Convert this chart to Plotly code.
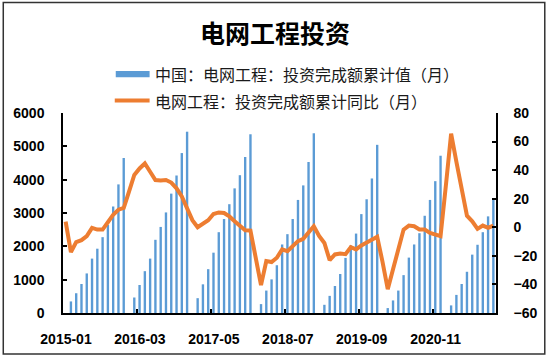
import plotly.graph_objects as go

# ---- data ----
years = [2015, 2016, 2017, 2018, 2019, 2020, 2021]
months = [f"{y}-{m:02d}" for y in years for m in range(1, 13)][:82]  # 2015-01 .. 2021-10

cum_2015 = [None, 347, 593, 870, 1187, 1632, 1929, 2275, 2641, 3195, 3858, 4650]
cum_2016 = [None, 465, 840, 1255, 1632, 2196, 2582, 3017, 3581, 4125, 4798, 5439]
cum_2017 = [None, 445, 860, 1315, 1810, 2424, 2819, 3264, 3739, 4134, 4680, 5362]
cum_2018 = [None, 267, 673, 1009, 1433, 2056, 2365, 2819, 3392, 3828, 4531, 5392]
cum_2019 = [None, 246, 514, 810, 1170, 1653, 2027, 2383, 2967, 3412, 4036, 5045]
cum_2020 = [None, 148, 377, 673, 1136, 1662, 2056, 2394, 2917, 3392, 3955, 4718]
cum_2021 = [None, 228, 543, 870, 1237, 1751, 2047, 2424, 2899, 3433]

yoy_2015 = [4, -17.4, -10.4, -9, -6.2, -0.4, -1.6, -1.6, 3.5, 8.8, 12.3, 13.5]
yoy_2016 = [25, 36.6, 41.2, 44.7, 38.9, 33.1, 32.7, 33.1, 31.3, 27.3, 21.6, 13]
yoy_2017 = [5, 0, 2.6, 4.9, 9.3, 10.4, 10, 7.6, 4.2, 1.2, -2.1, -2.3]
yoy_2018 = [-21, -40.5, -23.6, -24.3, -21.3, -15.5, -16.7, -13.2, -9.7, -8.1, -3.5, 0.7]
yoy_2019 = [-6, -11, -23, -19, -18.3, -18.8, -13.9, -15.5, -12.7, -10.9, -9, -6.7]
yoy_2020 = [-24, -43.3, -29.4, -16.7, -1.6, 1.2, 0.7, -1.6, -1.6, -3.9, -5.1, -6.2]
yoy_2021 = [29, 65.5, 45.8, 26.2, 8.1, 4.2, -1.1, 1.2, -0.4, 1.2]

cum_values = cum_2015 + cum_2016 + cum_2017 + cum_2018 + cum_2019 + cum_2020 + cum_2021
yoy_values = yoy_2015 + yoy_2016 + yoy_2017 + yoy_2018 + yoy_2019 + yoy_2020 + yoy_2021

tick_labels = ["2015-01", "2016-03", "2017-05", "2018-07", "2019-09", "2020-11"]
bar_name = "中国：电网工程：投资完成额累计值（月）"
line_name = "电网工程：投资完成额累计同比（月）"
title_text = "电网工程投资"

# ---- figure ----
W, H = 550, 359
L, R, T, B = 63, 52, 113, 44
PW, PH = W - L - R, H - T - B

def px(xp):
    return (xp - L) / PW

def py(yp):
    return (H - B - yp) / PH

idx = list(range(len(months)))
tick_pos = [months.index(t) - 0.5 for t in tick_labels]

CJK = "Noto Sans CJK SC, Noto Sans, sans-serif"
NUM = "Liberation Sans, Arial, sans-serif"

fig = go.Figure()
fig.add_trace(go.Bar(
    x=idx, y=cum_values, name=bar_name, marker=dict(color="#5B9BD5", line=dict(width=0)),
    hovertext=months, showlegend=False, yaxis="y",
))
fig.add_trace(go.Scatter(
    x=idx, y=yoy_values, name=line_name, mode="lines",
    line=dict(color="#ED7D31", width=4), hovertext=months,
    showlegend=False, yaxis="y2",
))

fig.update_layout(
    width=W, height=H,
    margin=dict(l=L, r=R, t=T, b=B, pad=0),
    paper_bgcolor="white", plot_bgcolor="white",
    bargap=0.55,
    title=dict(text=title_text, x=0.5, xanchor="center", y=1 - 34 / H, yanchor="middle",
               font=dict(family=CJK, size=25, color="#000000", weight="bold")),
    xaxis=dict(
        range=[-0.5, len(months) - 0.5], tickmode="array", tickvals=tick_pos, ticktext=tick_labels,
        ticklabelshift=3, showline=True, linecolor="#000000", linewidth=1.5,
        ticks="inside", ticklen=4, tickcolor="#000000", tickwidth=1.5,
        showgrid=False, zeroline=False, ticklabelstandoff=12,
        tickfont=dict(family=NUM, size=14, color="#000000", weight="bold"),
    ),
    yaxis=dict(
        range=[0, 6000], tickmode="array", tickvals=[0, 1000, 2000, 3000, 4000, 5000, 6000],
        showline=True, linecolor="#000000", linewidth=1.5,
        ticks="inside", ticklen=4, tickcolor="#000000", tickwidth=1.5,
        showgrid=False, zeroline=False, ticklabelstandoff=14,
        tickfont=dict(family=NUM, size=14, color="#000000", weight="bold"),
    ),
    yaxis2=dict(
        range=[-60, 80], tickmode="array", tickvals=[-60, -40, -20, 0, 20, 40, 60, 80],
        overlaying="y", side="right", anchor="x",
        showline=True, linecolor="#000000", linewidth=1.5,
        ticks="inside", ticklen=4, tickcolor="#000000", tickwidth=1.5,
        showgrid=False, zeroline=False, ticklabelstandoff=13,
        tickfont=dict(family=NUM, size=14, color="#000000", weight="bold"),
    ),
    shapes=[
        # outer frame
        dict(type="rect", xref="paper", yref="paper", x0=px(3), x1=px(547), y0=py(356.5), y1=py(1.5),
             line=dict(color="#333333", width=1.5), fillcolor="rgba(0,0,0,0)", layer="below"),
        # legend swatches
        dict(type="rect", xref="paper", yref="paper", x0=px(116), x1=px(150), y0=py(77), y1=py(70.5),
             line=dict(width=0), fillcolor="#5B9BD5"),
        dict(type="line", xref="paper", yref="paper", x0=px(115), x1=px(150), y0=py(100.5), y1=py(100.5),
             line=dict(color="#ED7D31", width=4)),
    ],
    annotations=[
        dict(text=bar_name, xref="paper", yref="paper", x=px(153), y=py(74), xanchor="left",
             yanchor="middle", showarrow=False, font=dict(family=CJK, size=16, color="#1a1a1a")),
        dict(text=line_name, xref="paper", yref="paper", x=px(153), y=py(100.5), xanchor="left",
             yanchor="middle", showarrow=False, font=dict(family=CJK, size=16, color="#1a1a1a")),
    ],
)

fig.write_html(
    "out.html",
    config={"displayModeBar": False},
    post_script="document.body.style.margin='0';document.body.style.padding='0';"
                "document.body.style.overflow='hidden';",
)
